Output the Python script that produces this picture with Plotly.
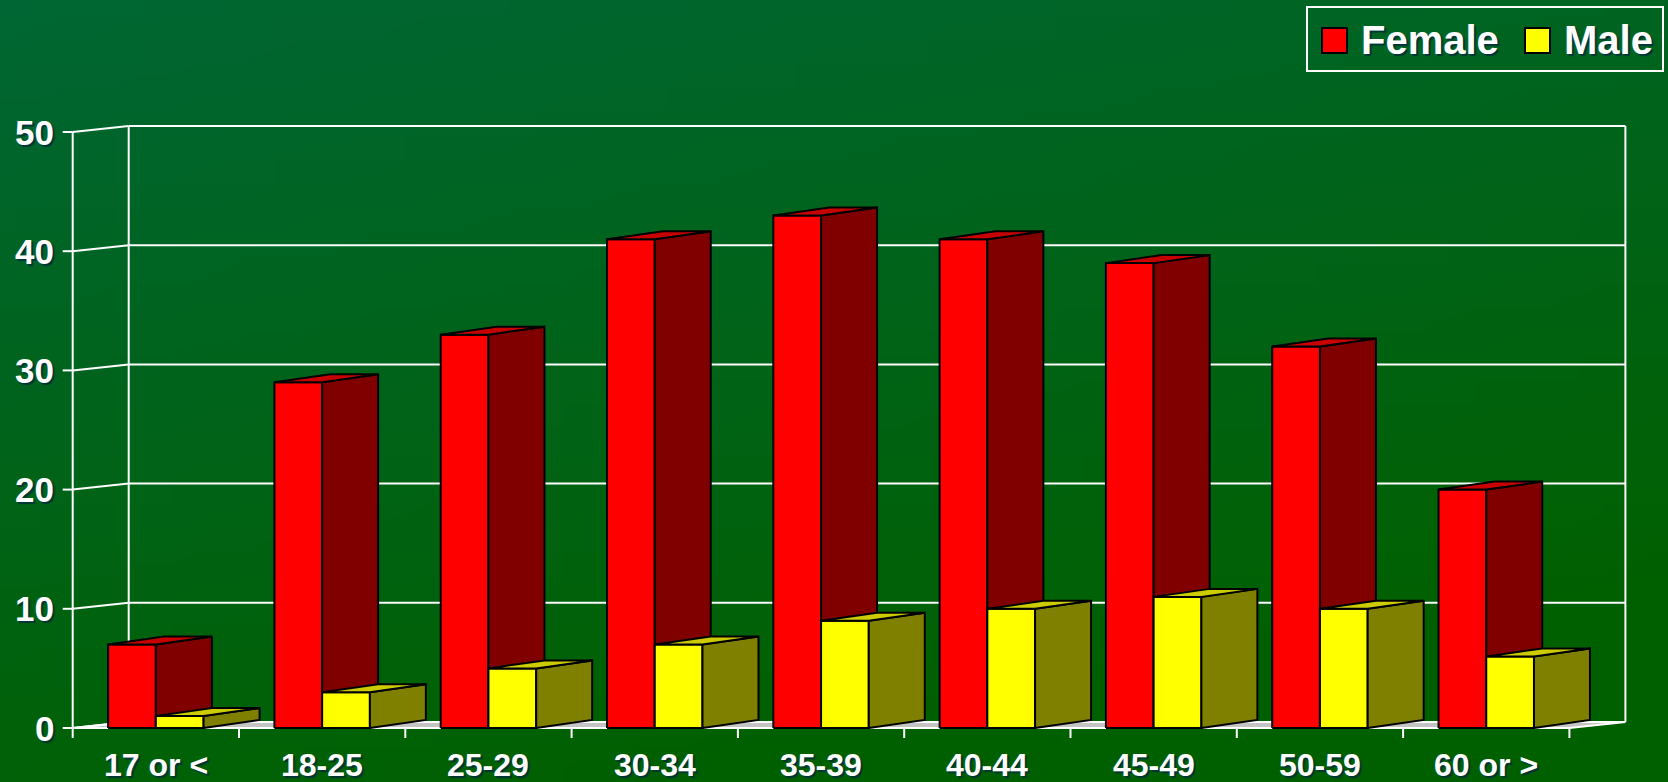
import base64, struct, zlib
import plotly.graph_objects as go

# ---------------- data ----------------
categories = ["17 or <", "18-25", "25-29", "30-34", "35-39", "40-44", "45-49", "50-59", "60 or >"]
female = [7, 29, 33, 41, 43, 41, 39, 32, 20]
male = [1, 3, 5, 7, 9, 10, 11, 10, 6]
y_ticks = [0, 10, 20, 30, 40, 50]
series_names = ["Female", "Male"]

# ---------------- geometry / styling ----------------
W, H = 1668, 782
X0PX = 72.7      # pixel of front axis (category -0.5)
CATPX = 166.3    # pixels per category
Y0PX = 728.0     # pixel of value 0
UNITPX = 11.92   # pixels per unit
DX = 56 / CATPX  # depth offset (category units)
DYW = 6 / UNITPX  # wall depth rise (value units)
DYB = 8 / UNITPX  # bar depth rise
BW = 0.287       # bar width (category units)

xr = [-0.5 - X0PX / CATPX, -0.5 + (W - X0PX) / CATPX]
yr = [-(H - Y0PX) / UNITPX, Y0PX / UNITPX]

FONT = "Liberation Sans, Arial, sans-serif"
SHADOW = "2px 2px 1px rgba(0,45,60,0.85)"

def gradient_png(w=64, h=32):
    rows = []
    for j in range(h):
        row = bytearray([0])
        for i in range(w):
            t = min(1.0, (j / (h - 1)) * 0.85 + (i / (w - 1)) * 0.35)
            r, g, b = 0, round(102 - 6 * t), round(51 * (1 - t))
            row += bytes([r, g, b])
        rows.append(bytes(row))
    raw = b"".join(rows)
    def chunk(tag, data):
        return struct.pack(">I", len(data)) + tag + data + struct.pack(">I", zlib.crc32(tag + data) & 0xffffffff)
    png = b"\x89PNG\r\n\x1a\n" + chunk(b"IHDR", struct.pack(">IIBBBBB", w, h, 8, 2, 0, 0, 0)) \
        + chunk(b"IDAT", zlib.compress(raw, 9)) + chunk(b"IEND", b"")
    return "data:image/png;base64," + base64.b64encode(png).decode()

def faces(values, offset):
    fx, fy, sx, sy, tx, ty = [], [], [], [], [], []
    for i, v in enumerate(values):
        x0 = i + offset
        x1 = x0 + BW
        fx += [x0, x1, x1, x0, x0, None]; fy += [0, 0, v, v, 0, None]
        sx += [x1, x1 + DX, x1 + DX, x1, x1, None]; sy += [0, DYB, v + DYB, v, 0, None]
        tx += [x0, x1, x1 + DX, x0 + DX, x0, None]; ty += [v, v, v + DYB, v + DYB, v, None]
    return (fx, fy), (sx, sy), (tx, ty)

fig = go.Figure()

n = len(categories)
left, right = -0.5, n - 0.5

# floor
fig.add_trace(go.Scatter(
    x=[left, right, right + DX, left + DX, left], y=[0, 0, DYW, DYW, 0],
    mode="lines", fill="toself", fillcolor="#c4c4c4",
    line=dict(color="white", width=2), hoverinfo="skip", showlegend=False))

# walls, gridlines and ticks
lx, ly = [], []
for v in y_ticks:
    if v > 0:
        lx += [left + DX, right + DX, None]; ly += [v + DYW, v + DYW, None]
    lx += [left, left + DX, None]; ly += [v, v + DYW, None]
    lx += [left - 10 / CATPX, left, None]; ly += [v, v, None]
top = max(y_ticks)
lx += [left, left, None]; ly += [0, top, None]
lx += [left + DX, left + DX, None]; ly += [DYW, top + DYW, None]
lx += [right + DX, right + DX, None]; ly += [DYW, top + DYW, None]
for k in range(n + 1):
    lx += [left + k, left + k, None]; ly += [0, -10 / UNITPX, None]
fig.add_trace(go.Scatter(x=lx, y=ly, mode="lines", line=dict(color="white", width=2),
                         hoverinfo="skip", showlegend=False))

# bars
styles = [
    (female, -BW, ["#ff0000", "#800000", "#c80000"]),
    (male, 0.0, ["#ffff00", "#808000", "#cccc00"]),
]
for vals, off, cols in styles:
    for (px_, py_), c in zip(faces(vals, off), cols):
        fig.add_trace(go.Scatter(x=px_, y=py_, mode="lines", fill="toself", fillcolor=c,
                                 line=dict(color="black", width=2), hoverinfo="skip",
                                 showlegend=False))

ann = []
for i, c in enumerate(categories):
    ann.append(dict(x=i, y=(Y0PX - 765) / UNITPX, xref="x", yref="y", text=c, showarrow=False,
                    xanchor="center", yanchor="middle",
                    font=dict(family=FONT, size=32, color="white", weight="bold", shadow=SHADOW)))
for v in y_ticks:
    ann.append(dict(x=left - (X0PX - 56) / CATPX, y=v, xref="x", yref="y", text=str(v),
                    showarrow=False, xanchor="right", yanchor="middle",
                    font=dict(family=FONT, size=35, color="white", weight="bold", shadow=SHADOW)))

# manual legend
def px(xp): return xp / W
def py(yp): return 1 - yp / H
shapes = [dict(type="rect", xref="paper", yref="paper", x0=px(1307), x1=px(1663), y0=py(71), y1=py(7),
               line=dict(color="white", width=2), fillcolor="rgba(0,0,0,0)")]
leg_items = [(series_names[0], "#ff0000", 1322, 1362), (series_names[1], "#ffff00", 1525, 1565)]
for name, col, sqx, txx in leg_items:
    shapes.append(dict(type="rect", xref="paper", yref="paper", x0=px(sqx), x1=px(sqx + 25),
                       y0=py(53), y1=py(28), fillcolor=col, line=dict(color="black", width=2)))
    ann.append(dict(x=px(txx - 3), y=py(40), xref="paper", yref="paper", text=name, showarrow=False,
                    xanchor="left", yanchor="middle",
                    font=dict(family=FONT, size=40, color="white", weight="bold", shadow=SHADOW)))

fig.update_layout(
    width=W, height=H, margin=dict(l=0, r=0, t=0, b=0),
    paper_bgcolor="#006422", plot_bgcolor="rgba(0,0,0,0)",
    xaxis=dict(range=xr, visible=False, fixedrange=True),
    yaxis=dict(range=yr, visible=False, fixedrange=True),
    annotations=ann, shapes=shapes, showlegend=False,
    images=[dict(source=gradient_png(), xref="paper", yref="paper", x=0, y=1, sizex=1, sizey=1,
                 sizing="stretch", xanchor="left", yanchor="top", layer="below")],
)

fig.write_html("out.html", config={"displayModeBar": False})
